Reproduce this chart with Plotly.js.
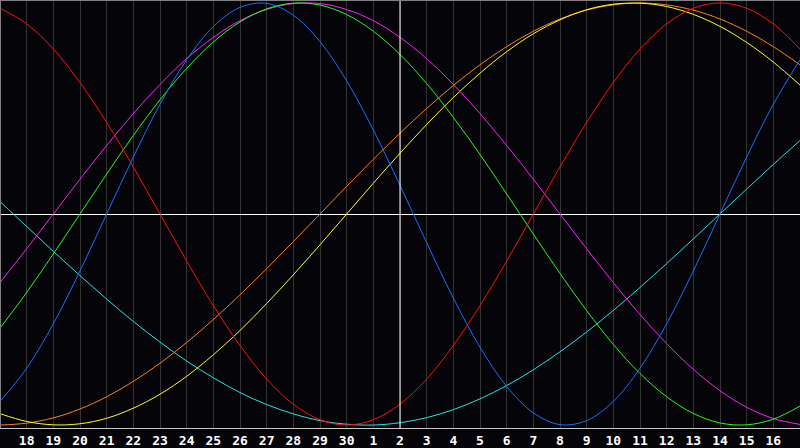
<!DOCTYPE html>
<html>
<head>
<meta charset="utf-8">
<script src="https://cdn.plot.ly/plotly-3.0.1.min.js"></script>
<style>html,body{margin:0;padding:0;background:#050408;}#chart{width:800px;height:448px;}</style>
</head>
<body>
<div id="chart"></div>
<script>
// Days shown (June 17 .. July 17), today = July 2
const days = ['2025-06-17','2025-06-18','2025-06-19','2025-06-20','2025-06-21','2025-06-22','2025-06-23','2025-06-24','2025-06-25','2025-06-26','2025-06-27','2025-06-28','2025-06-29','2025-06-30','2025-07-01','2025-07-02','2025-07-03','2025-07-04','2025-07-05','2025-07-06','2025-07-07','2025-07-08','2025-07-09','2025-07-10','2025-07-11','2025-07-12','2025-07-13','2025-07-14','2025-07-15','2025-07-16','2025-07-17'];
const tickDays = days.slice(1, 30);
const today = '2025-07-02';

// Cycle values (-1 .. 1)
const blue23 = [-0.888,-0.731,-0.520,-0.270,0,0.270,0.520,0.731,0.888,0.979,0.998,0.942,0.817,0.631,0.398,0.136,-0.136,-0.398,-0.631,-0.817,-0.942,-0.998,-0.979,-0.888,-0.731,-0.520,-0.270,0,0.270,0.520,0.731];
const red28 = [0.975,0.901,0.782,0.623,0.434,0.223,0,-0.223,-0.434,-0.623,-0.782,-0.901,-0.975,-1,-0.975,-0.901,-0.782,-0.623,-0.434,-0.223,0,0.223,0.434,0.623,0.782,0.901,0.975,1,0.975,0.901,0.782];
const green33 = [-0.541,-0.372,-0.189,0,0.189,0.372,0.541,0.690,0.815,0.910,0.972,0.999,0.990,0.945,0.866,0.756,0.618,0.458,0.282,0.095,-0.095,-0.282,-0.458,-0.618,-0.756,-0.866,-0.945,-0.990,-0.999,-0.972,-0.910];
const magenta38 = [-0.325,-0.165,0,0.165,0.325,0.476,0.614,0.736,0.837,0.916,0.969,0.997,0.997,0.969,0.916,0.837,0.736,0.614,0.476,0.325,0.165,0,-0.165,-0.325,-0.476,-0.614,-0.736,-0.837,-0.916,-0.969,-0.997];
const yellow43 = [-0.946,-0.983,-0.999,-0.994,-0.968,-0.920,-0.854,-0.769,-0.667,-0.552,-0.424,-0.288,-0.146,0,0.146,0.288,0.424,0.552,0.667,0.769,0.854,0.920,0.968,0.994,0.999,0.983,0.946,0.889,0.813,0.720,0.611];
const orange48 = [-1,-0.991,-0.966,-0.924,-0.866,-0.793,-0.707,-0.609,-0.5,-0.383,-0.259,-0.131,0,0.131,0.259,0.383,0.5,0.609,0.707,0.793,0.866,0.924,0.966,0.991,1,0.991,0.966,0.924,0.866,0.793,0.707];
const cyan53 = [0.059,-0.059,-0.177,-0.292,-0.403,-0.509,-0.607,-0.697,-0.776,-0.846,-0.903,-0.947,-0.979,-0.996,-1,-0.989,-0.965,-0.927,-0.876,-0.813,-0.738,-0.653,-0.559,-0.457,-0.348,-0.235,-0.118,0,0.118,0.235,0.348];

const series = [
  {y: cyan53, color: '#22e6e6'},
  {y: orange48, color: '#ff8020'},
  {y: yellow43, color: '#ffff20'},
  {y: magenta38, color: '#ff20ff'},
  {y: green33, color: '#20ff20'},
  {y: red28, color: '#ff1010'},
  {y: blue23, color: '#1a70ff'}
];

const traces = series.map(s => ({
  x: days, y: s.y, type: 'scatter', mode: 'lines',
  line: {color: s.color, width: 1, shape: 'spline', smoothing: 1},
  hoverinfo: 'skip'
}));

const bg = '#050408';
const layout = {
  width: 800, height: 448,
  margin: {l: 0, r: 0, t: 0, b: 20, pad: 0},
  paper_bgcolor: bg, plot_bgcolor: bg,
  showlegend: false,
  xaxis: {
    type: 'date', range: [days[0], days[30]],
    tickvals: tickDays, tickformat: '%-d', ticks: '',
    showgrid: true, gridcolor: '#333333', gridwidth: 1,
    tickfont: {family: 'DejaVu Sans Mono', size: 13, color: '#ffffff', weight: 'bold'},
    showline: true, linecolor: '#c8c8c8', linewidth: 1,
    zeroline: false, fixedrange: true
  },
  yaxis: {
    range: [-1.014, 1.014], showticklabels: false, showgrid: false,
    zeroline: true, zerolinecolor: '#ffffff', zerolinewidth: 1,
    fixedrange: true
  },
  shapes: [
    {type: 'line', xref: 'x', yref: 'paper', x0: today, x1: today, y0: 0, y1: 1, line: {color: '#ffffff', width: 1}, layer: 'above'},
    {type: 'line', xref: 'paper', yref: 'paper', x0: 0, x1: 0, y0: 0, y1: 1, line: {color: '#808080', width: 2}},
    {type: 'line', xref: 'paper', yref: 'paper', x0: 0, x1: 1, y0: 1, y1: 1, line: {color: '#808080', width: 2}}
  ]
};

Plotly.newPlot('chart', traces, layout, {displayModeBar: false, staticPlot: true});
</script>
</body>
</html>
